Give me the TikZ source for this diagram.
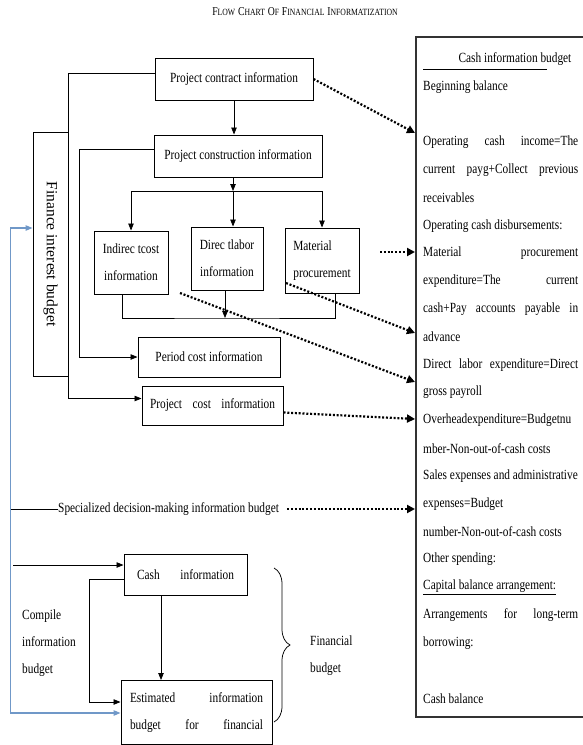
\documentclass[tikz,border=0pt]{standalone}
\usepackage{fontspec}
\setmainfont{Liberation Serif}[FakeStretch=0.81]
\newfontfamily\sidefont{Liberation Serif}
\usepackage{graphicx}
\usetikzlibrary{arrows.meta,decorations.pathreplacing}
\definecolor{linkblue}{RGB}{112,152,200}
\tikzset{
  box/.style={draw, line width=1pt, inner sep=2pt},
  link/.style={line width=0.75pt},
  dotlink/.style={line width=2.2pt, dash pattern=on 2pt off 1.8pt, -{Triangle[length=8pt,width=8pt]}},
  bluelink/.style={draw=linkblue, line width=1.2pt},
  >={Triangle[length=7pt,width=5.5pt]}
}
\newcommand{\bigsc}[2]{{\fontsize{12}{10}\selectfont #1}{\fontsize{9.5}{10}\selectfont #2}}

\begin{document}
\begin{tikzpicture}[x=1pt,y=-1pt,font=\fontsize{14}{27}\selectfont]
\useasboundingbox (0,0) rectangle (583,745);

% title
\node (title) at (305,12) {\bigsc{F}{LOW} \bigsc{C}{HART} \bigsc{O}{F} \bigsc{F}{INANCIAL} \bigsc{I}{NFORMATIZATION}};

% left column
\node[box, minimum width=158pt, minimum height=42pt] (contract) at (234,79) {Project contract information};
\node[box, minimum width=168pt, minimum height=42pt] (construct) at (238,156) {Project construction information};
\node[box, minimum width=74pt, minimum height=63pt, align=center] (indirect) at (131,262.5) {Indirec tcost\\information};
\node[box, minimum width=72pt, minimum height=63pt, align=center] (direct) at (227,258.5) {Direc tlabor\\information};
\node[box, minimum width=74pt, minimum height=65pt, align=left] (material) at (322,260.5) {Material\\procurement};
\node[box, minimum width=142pt, minimum height=40pt] (period) at (209,357) {Period cost information};
\node[box, minimum width=141pt, minimum height=39pt] (projcost) at (212.5,405.5) {\makebox[125pt][s]{Project cost information}};
\node[box, minimum width=35pt, minimum height=244pt] (finance) at (50.5,254) {\rotatebox{-90}{\sidefont\fontsize{15.5}{18}\selectfont Finance interest budget}};

% bottom part
\node[anchor=west, inner sep=0pt] (special) at (58,509) {Specialized decision-making information budget};
\node[box, minimum width=123pt, minimum height=41pt] (cash) at (185.5,574.5) {\makebox[97pt][s]{Cash information}};
\node[box, minimum width=151pt, minimum height=64pt, align=center] (estimated) at (196.5,712.5) {\makebox[133pt][s]{Estimated information}\\\makebox[133pt][s]{budget for financial}};
\node[anchor=west, align=left, inner sep=0pt] (compile) at (22,643) {Compile\\information\\budget};
\node[anchor=west, align=left, inner sep=0pt] (finbudget) at (310,656) {Financial\\budget};
\draw[link, decorate, decoration={brace, amplitude=16pt}] (274,568) -- (274,722);

% cash information budget
\draw[line width=1.3pt, black!80] (585,37) -- (416,37) -- (416,717) -- (585,717);
\node[inner sep=0pt] (cibtitle) at (515,59) {Cash information budget};
\draw[link] (423,69) -- (547,69);
\foreach \k/\txt in {1/Beginning balance, 5/receivables, 6/Operating cash disbursements:, 10/advance, 12/gross payroll, 13/Overheadexpenditure=Budgetnu, 14/mber-Non-out-of-cash costs, 15/Sales expenses and administrative, 16/expenses=Budget, 17/number-Non-out-of-cash costs, 18/Other spending:, 21/borrowing:, 23/Cash balance}
  \node[anchor=west, inner sep=0pt] (plain\k) at (423,{59+27.8*\k}) {\txt};
\foreach \k/\txt in {3/Operating cash income=The, 4/current payg+Collect previous, 7/Material procurement, 8/expenditure=The current, 9/cash+Pay accounts payable in, 11/Direct labor expenditure=Direct, 20/Arrangements for long-term}
  \node[anchor=west, inner sep=0pt] (just\k) at (423,{59+27.8*\k}) {\makebox[155pt][s]{\txt}};
\node[anchor=west, inner sep=0pt] (plain19) at (423,{59+27.8*19}) {\underline{Capital balance arrangement:}};

% solid links
\draw[link,->] (contract.south) -- (contract.south |- construct.north);
\draw[link,->] ([yshift=6pt]contract.west) -- ++(-86,0) |- ([yshift=7pt]projcost.west);
\draw[link,->] ([yshift=7pt]construct.west) -- ++(-74,0) |- (period.west);
\coordinate (split) at (233,191);
\draw[link,->] (construct.south -| split) -- (split);
\draw[link,->] (split) -| (indirect.north);
\draw[link,->] (split) -- (split |- direct.north);
\draw[link,->] (split) -| (material.north);
\coordinate (merge) at (225,318);
\draw[link] ([xshift=-9pt]indirect.south) |- (merge) -| ([xshift=13pt]material.south);
\draw[link,->] (direct.south -| merge) -- (merge);

\coordinate (specfeed) at (10,509);
\draw[link] (specfeed) -- (special);
\coordinate (cashfeed) at (13,565);
\draw[link,->] (cashfeed) -- (cashfeed -| cash.west);
\draw[link,->] ([yshift=-4.5pt]cash.west) -- ++(-34,0) |- ([yshift=10.5pt]estimated.west);
\coordinate (cashdrop) at ([xshift=-24.5pt]cash.south);
\draw[link,->] (cashdrop) -- (cashdrop |- estimated.north);

\draw[bluelink,<->] ([yshift=26pt]finance.west) -- ++(-22,0) |- ([yshift=-0.5pt]estimated.west);

% dotted links into the budget
\coordinate (inA) at (415,133);
\coordinate (inB) at (415,252);
\coordinate (inC) at (415,333);
\coordinate (inD) at (415,382);
\coordinate (inE) at (415,419);
\coordinate (inF) at (415,509);
\coordinate (matout) at (380,252);
\coordinate (matdiag) at (286,283);
\coordinate (inddiag) at (180,293);
\draw[dotlink] (contract.east) -- (inA);
\draw[dotlink] (matout) -- (inB);
\draw[dotlink] (matdiag) -- (inC);
\draw[dotlink] (inddiag) -- (inD);
\draw[dotlink] ([yshift=-7pt]projcost.east) -- (inE);
\draw[dotlink] ([xshift=8pt]special.east) -- (inF);
\end{tikzpicture}
\end{document}
